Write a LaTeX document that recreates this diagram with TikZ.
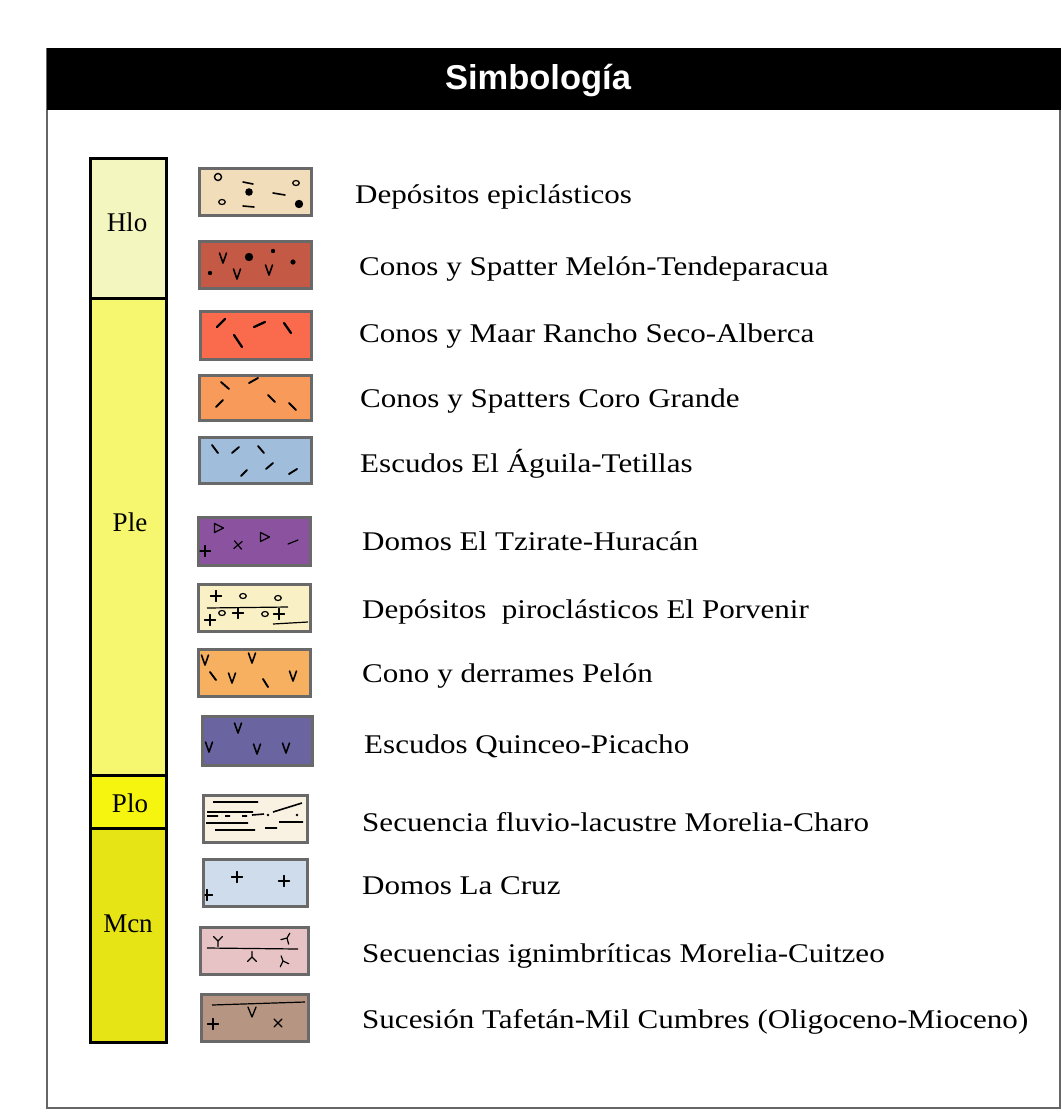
\documentclass[tikz,border=0pt]{standalone}
\usepackage{fontspec}
\setmainfont{Liberation Serif}
\newfontfamily\titlefont{Liberation Sans}
\newfontfamily\widefont[FakeStretch=1.15]{Liberation Serif}
\definecolor{swb}{RGB}{105,105,105}
\definecolor{cA}{RGB}{242,221,187}
\definecolor{cB}{RGB}{196,90,70}
\definecolor{cC}{RGB}{250,107,78}
\definecolor{cD}{RGB}{247,154,90}
\definecolor{cE}{RGB}{160,190,219}
\definecolor{cF}{RGB}{139,82,160}
\definecolor{cG}{RGB}{250,240,198}
\definecolor{cH}{RGB}{246,176,96}
\definecolor{cI}{RGB}{106,101,160}
\definecolor{cJ}{RGB}{249,241,226}
\definecolor{cK}{RGB}{207,220,235}
\definecolor{cL}{RGB}{232,195,197}
\definecolor{cM}{RGB}{182,150,130}
\definecolor{hloc}{RGB}{243,246,190}
\definecolor{plec}{RGB}{246,247,110}
\definecolor{ploc}{RGB}{245,245,15}
\definecolor{mcnc}{RGB}{230,228,20}
\tikzset{
  sw/.style={draw=swb,line width=3pt},
  sym/.style={line width=1.6pt,line cap=round,line join=round,black},
  symb/.style={line width=2.3pt,line cap=round,black},
  lab/.style={anchor=base west,inner sep=0pt,font=\widefont\fontsize{27}{30}\selectfont},
  clab/.style={inner sep=0pt,font=\fontsize{27}{30}\selectfont},
  vm/.pic={\draw[sym] (-3.5,-5)--(0,5)--(3.5,-5);},
  pl/.pic={\draw[sym,line width=1.2pt] (-5.5,0)--(5.5,0) (0,-5.5)--(0,5.5);},
  oc/.pic={\draw[line width=1.2pt] (0,0) ellipse (3.3 and 2.5);},
  tri/.pic={\draw[line width=1.2pt,line join=round] (-4.5,-4.5)--(4.5,0)--(-4.5,4.5)--cycle;},
  ysym/.pic={\draw[sym,line width=1.2pt] (0,0)--(0,5.5) (0,0)--(-4.5,-4.5) (0,0)--(4.5,-4.5);}
}
\begin{document}
\begin{tikzpicture}[x=1pt,y=-1pt]
\useasboundingbox (0,0) rectangle (1061,1117);
\fill[white] (0,0) rectangle (1061,1117);
% frame
\draw[gray!80!black,line width=2pt] (47,48) -- (47,1108) -- (1060,1108) -- (1060,48);
\fill[black] (47,48) rectangle (1061,110);
\node[text=white,font=\titlefont\bfseries\fontsize{34.5}{38}\selectfont] (title) at (538,81) {Simbología};
% column
\fill[hloc] (90,158) rectangle (166,298);
\fill[plec] (90,298) rectangle (166,775);
\fill[ploc] (90,775) rectangle (166,828);
\fill[mcnc] (90,828) rectangle (166,1042);
\draw[line width=3pt] (90,158) rectangle (166,1042);
\draw[line width=3pt] (90,298) -- (166,298) (90,775) -- (166,775) (90,828) -- (166,828);
\node[clab] (hlo) at (127,222) {Hlo};
\node[clab] (ple) at (130,522) {Ple};
\node[clab] (plo) at (130,803) {Plo};
\node[clab] (mcn) at (128,924) {Mcn};
% swatches
\path[sw,fill=cA] (199,168) rectangle (311,215);
\path[sw,fill=cB] (199,241) rectangle (311,288);
\path[sw,fill=cC] (200,311) rectangle (311,359);
\path[sw,fill=cD] (199,375) rectangle (311,420);
\path[sw,fill=cE] (199,437) rectangle (311,483);
\path[sw,fill=cF] (198,517) rectangle (310,565);
\path[sw,fill=cG] (198,584) rectangle (310,631);
\path[sw,fill=cH] (198,649) rectangle (310,696);
\path[sw,fill=cI] (202,716) rectangle (312,765);
\path[sw,fill=cJ] (203,795) rectangle (307,842);
\path[sw,fill=cK] (203,859) rectangle (307,906);
\path[sw,fill=cL] (200,927) rectangle (308,974);
\path[sw,fill=cM] (201,994) rectangle (308,1041);
% 1 epiclasticos
\draw[line width=1.4pt] (218,177) circle (3.5);
\pic at (296,183) {oc};
\pic at (222,202) {oc};
\fill (249,192) circle (3.8);
\fill (299,204) circle (4.2);
\draw[sym] (243,182)--(253,184) (273,193)--(285,195) (243,206)--(254,207);
% 2 spatter
\pic at (223,258) {vm};
\pic at (237,274) {vm};
\pic at (269,270) {vm};
\fill (249,257) circle (4.2);
\fill (273,251) circle (2.2);
\fill (293,262) circle (2.6);
\fill (210,273) circle (2.2);
% 3 rancho seco
\draw[symb] (217,327)--(225,319) (234,335)--(242,347) (254,327)--(265,322) (284,323)--(291,333);
% 4 coro grande
\draw[symb,line width=1.9pt] (221,382)--(229,389) (249,383)--(258,378) (216,407)--(223,400) (268,395)--(275,402) (289,403)--(296,410);
% 5 aguila
\draw[symb,line width=1.9pt] (212,445)--(218,453) (232,453)--(239,447) (258,446)--(264,453) (266,469)--(273,463) (241,476)--(247,470) (289,474)--(297,469);
% 6 tzirate
\pic at (219,528) {tri};
\pic at (265,537) {tri};
\pic[rotate=40] at (238,545) {pl};
\begin{scope}
\clip (199.5,518.5) rectangle (308.5,563.5);
\pic at (205,551) {pl};
\end{scope}
\draw[sym,line width=1.2pt] (288,544)--(298,540);
% 7 porvenir
\pic at (216,596) {pl};
\pic at (243,596) {oc};
\pic at (278,598) {oc};
\pic at (222,613) {oc};
\pic at (238,613) {pl};
\pic at (265,614) {oc};
\pic at (279,614) {pl};
\pic at (210,620) {pl};
\draw[line width=1.2pt] (207,608)--(288,607) (273,624)--(308,622);
% 8 pelon
\pic at (205,660) {vm};
\pic at (252,658) {vm};
\pic at (232,678) {vm};
\pic at (293,676) {vm};
\draw[symb,line width=1.9pt] (210,672)--(216,680) (263,679)--(268,687);
% 9 quinceo
\pic at (238,728) {vm};
\pic at (209,747) {vm};
\pic at (257,749) {vm};
\pic at (286,748) {vm};
% 10 fluvio-lacustre
\draw[line width=1.6pt] (213,802)--(258,802) (207,812)--(253,812) (273,812)--(302,803)
  (207,816)--(218,816) (225,816)--(230,816) (242,816)--(247,816) (252,815)--(264,814)
  (206,823)--(248,823) (279,822)--(303,822) (265,828)--(277,828) (215,830)--(255,830);
\fill (268,815) circle (1.4) (297,815) circle (1.4);
% 11 la cruz
\pic at (237,877) {pl};
\pic at (284,881) {pl};
\begin{scope}
\clip (204.5,860.5) rectangle (305.5,904.5);
\pic at (207,895) {pl};
\end{scope}
% 12 ignimbriticas
\draw[line width=1.2pt] (207,948)--(298,949);
\pic at (218,941) {ysym};
\pic[rotate=150] at (287,938) {ysym};
\pic[rotate=180] at (252,957) {ysym};
\pic[rotate=200] at (283,961) {ysym};
% 13 tafetan
\draw[line width=1.2pt] (212,1005)--(305,1002);
\draw[sym,line width=1.3pt] (248,1007)--(252,1017)--(256,1007);
\pic at (213,1024) {pl};
\pic[rotate=45] at (278,1023) {pl};
% labels
\node[lab] (t1) at (355,203) {Depósitos epiclásticos};
\node[lab] (t2) at (359,275) {Conos y Spatter Melón-Tendeparacua};
\node[lab] (t3) at (359,342) {Conos y Maar Rancho Seco-Alberca};
\node[lab] (t4) at (360,407) {Conos y Spatters Coro Grande};
\node[lab] (t5) at (360,472) {Escudos El Águila-Tetillas};
\node[lab] (t6) at (362,550) {Domos El Tzirate-Huracán};
\node[lab] (t7) at (362,618) {Depósitos\ \ piroclásticos El Porvenir};
\node[lab] (t8) at (362,682) {Cono y derrames Pelón};
\node[lab] (t9) at (364,753) {Escudos Quinceo-Picacho};
\node[lab] (t10) at (362,831) {Secuencia fluvio-lacustre Morelia-Charo};
\node[lab] (t11) at (362,894) {Domos La Cruz};
\node[lab] (t12) at (362,962) {Secuencias ignimbríticas Morelia-Cuitzeo};
\node[lab] (t13) at (362,1028) {Sucesión Tafetán-Mil Cumbres (Oligoceno-Mioceno)};
\end{tikzpicture}
\end{document}
